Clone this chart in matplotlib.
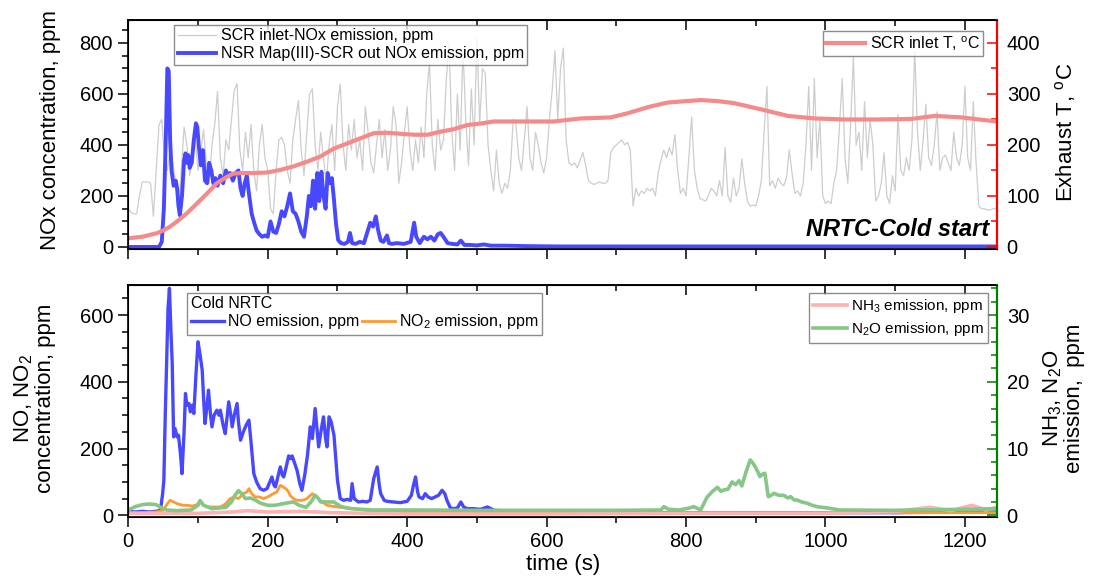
import numpy as np
import matplotlib
matplotlib.use('Agg')
import matplotlib.pyplot as plt
from matplotlib.ticker import MultipleLocator

plt.rcParams['font.family'] = ['Liberation Sans', 'DejaVu Sans']
plt.rcParams['mathtext.fontset'] = 'custom'
plt.rcParams['mathtext.rm'] = 'Liberation Sans'
plt.rcParams['mathtext.it'] = 'Liberation Sans:italic'
plt.rcParams['mathtext.bf'] = 'Liberation Sans:bold'

# ---------------- DATA ----------------
# SCR inlet NOx (ppm), sampled every 4 s starting at t = 0
scr_in_step = 4
scr_in_nox = [
    150, 135, 130, 130, 200, 255, 255, 255, 250, 120,
    300, 480, 500, 350, 300, 380, 330, 250, 120, 300,
    470, 400, 280, 350, 430, 300, 380, 460, 320, 250,
    400, 480, 610, 350, 280, 420, 380, 500, 615, 640,
    380, 300, 450, 350, 480, 300, 220, 400, 480, 350,
    300, 150, 130, 300, 420, 430, 400, 300, 250, 420,
    500, 575, 380, 280, 450, 600, 620, 400, 300, 450,
    350, 250, 400, 480, 300, 550, 640, 400, 300, 480,
    380, 500, 350, 420, 300, 550, 450, 330, 290, 400,
    500, 350, 460, 300, 380, 550, 480, 250, 330, 450,
    550, 380, 300, 420, 330, 470, 350, 600, 720, 400,
    300, 500, 380, 420, 650, 800, 450, 300, 600, 380,
    780, 500, 320, 620, 400, 820, 480, 700, 680, 400,
    300, 220, 380, 250, 210, 250, 230, 300, 500, 480,
    350, 300, 420, 550, 350, 300, 450, 400, 330, 290,
    350, 500, 615, 770, 500, 700, 780, 420, 330, 320,
    330, 310, 340, 370, 320, 260, 250, 245, 250, 255,
    250, 250, 260, 370, 390, 400, 410, 420, 400, 410,
    380, 160, 230, 200, 220, 210, 230, 220, 230, 200,
    290, 340, 380, 350, 390, 360, 440, 300, 210, 230,
    200, 350, 510, 300, 230, 190, 185, 180, 200, 230,
    220, 200, 260, 200, 390, 200, 175, 270, 200, 230,
    345, 250, 180, 160, 165, 160, 200, 260, 450, 630,
    240, 260, 230, 270, 250, 240, 270, 380, 290, 210,
    220, 200, 250, 400, 630, 300, 660, 350, 500, 200,
    170, 180, 170, 250, 300, 470, 660, 350, 250, 480,
    745, 400, 450, 300, 570, 350, 500, 400, 180, 200,
    250, 370, 200, 170, 280, 220, 520, 300, 280, 350,
    300, 420, 770, 450, 300, 420, 560, 350, 320, 400,
    530, 300, 350, 360, 330, 300, 450, 350, 320, 400,
    630, 350, 300, 570, 330, 160, 150, 150, 145, 145,
    150, 150,
]

# NSR Map(III)-SCR out NOx (ppm)
nsr_t = [0, 44, 48, 51, 54, 56, 58, 60, 62, 65, 68, 70, 72, 74, 77, 80, 82, 84, 86, 88,
         91, 94, 97, 99, 101, 104, 107, 110, 113, 116, 119, 122, 125, 128, 132, 136, 140, 143, 146, 150,
         154, 158, 161, 164, 167, 170, 173, 177, 180, 184, 188, 192, 196, 200, 204, 208, 212, 216, 220, 224,
         228, 232, 236, 240, 244, 248, 252, 256, 259, 262, 265, 268, 271, 274, 277, 280, 283, 286, 289, 292,
         295, 298, 301, 305, 310, 315, 318, 321, 326, 332, 338, 343, 347, 351, 355, 358, 362, 366, 371, 374,
         378, 385, 395, 405, 410, 413, 418, 424, 429, 434, 439, 444, 448, 452, 458, 465, 472, 477, 482, 490,
         500, 510, 520, 540, 580, 620, 700, 800, 900, 1000, 1100, 1200, 1244]
nsr_nox = [0, 0, 20, 150, 450, 700, 690, 420, 300, 240, 260, 230, 160, 125, 200, 340, 367, 330, 360, 310,
           330, 420, 485, 470, 400, 320, 380, 260, 250, 330, 300, 250, 270, 240, 280, 250, 300, 280, 290, 260,
           290, 300, 230, 200, 250, 280, 210, 130, 100, 65, 50, 40, 45, 40, 100, 60, 55, 90, 140, 120,
           160, 210, 140, 130, 100, 60, 40, 120, 200, 160, 260, 150, 290, 180, 295, 200, 150, 290, 250, 270,
           185, 90, 27, 15, 12, 20, 55, 15, 12, 20, 15, 60, 95, 80, 120, 70, 25, 20, 45, 15,
           12, 15, 12, 20, 95, 40, 15, 40, 30, 40, 25, 50, 55, 40, 15, 12, 10, 25, 8, 8,
           6, 10, 5, 5, 3, 2, 2, 2, 2, 2, 2, 2, 2]

# SCR inlet temperature (deg C)
temp_t = [0, 20, 41, 51, 60, 70, 84, 99, 113, 127, 142, 151, 165, 180, 199, 218, 237, 256, 275, 295,
          314, 333, 352, 371, 390, 410, 429, 448, 467, 486, 505, 524, 563, 610, 649, 692, 716, 745, 773, 800,
          821, 845, 869, 907, 946, 984, 1027, 1075, 1123, 1157, 1195, 1220, 1246]
temp_c = [17, 20, 27, 33, 40, 50, 66, 86, 105, 125, 138, 144, 145, 145, 146, 151, 158, 167, 177, 193,
          203, 213, 223, 224, 222, 220, 220, 226, 231, 239, 242, 246, 246, 246, 252, 254, 262, 274, 283, 286,
          288, 286, 282, 270, 257, 252, 250, 250, 251, 257, 254, 250, 246]

# NO emission (ppm)
no_t = [0, 10, 20, 30, 40, 46, 49, 51, 53, 55.5, 57, 59, 61, 63, 65, 67, 70, 72, 75, 77,
        80, 82, 84, 87, 89, 92, 94, 97, 100, 103, 106, 108, 110, 113, 115, 118, 120, 123, 127, 130,
        132, 136, 139, 142, 144, 147, 149, 152, 156, 158, 161, 165, 169, 173, 176, 180, 184, 189, 194, 199,
        203, 206, 209, 211, 215, 218, 221, 223, 227, 230, 233, 235, 238, 242, 246, 249, 253, 257, 261, 264,
        268, 271, 273, 277, 280, 283, 285, 288, 291, 295, 298, 300, 304, 309, 314, 319, 321, 324, 330, 336,
        342, 347, 352, 357, 360, 362, 367, 371, 380, 390, 400, 406, 409, 412, 415, 417, 422, 426, 430, 435,
        440, 445, 450, 454, 457, 462, 467, 472, 477, 481, 486, 495, 505, 515, 525, 550, 600, 700, 800, 900,
        1000, 1100, 1200, 1246]
no_ppm = [12, 10, 12, 10, 12, 15, 60, 105, 300, 505, 620, 680, 560, 455, 235, 260, 235, 240, 180, 125,
          250, 365, 330, 335, 310, 330, 305, 420, 520, 480, 435, 350, 275, 330, 375, 300, 265, 300, 315, 300,
          315, 270, 245, 300, 340, 300, 265, 300, 335, 280, 225, 250, 270, 285, 220, 125, 100, 80, 75, 80,
          100, 115, 90, 85, 120, 145, 120, 115, 150, 178, 170, 178, 160, 135, 95, 75, 120, 180, 265, 230,
          320, 250, 205, 260, 295, 230, 205, 295, 280, 240, 160, 105, 50, 45, 48, 45, 95, 50, 40, 42,
          40, 45, 110, 145, 90, 65, 45, 42, 40, 38, 42, 60, 90, 115, 70, 55, 50, 65, 55, 50,
          55, 60, 75, 65, 45, 22, 20, 22, 40, 25, 20, 20, 18, 25, 15, 12, 10, 8, 8, 8,
          8, 8, 10, 10]

# NO2 emission (ppm)
no2_t = [0, 20, 40, 50, 56, 60, 65, 70, 78, 84, 92, 99, 103, 108, 115, 125, 132, 140, 146, 152,
         158, 165, 170, 173, 177, 182, 188, 194, 200, 208, 213, 218, 222, 226, 230, 232, 237, 242, 250, 256,
         264, 270, 275, 285, 300, 320, 340, 360, 400, 500, 600, 800, 1000, 1246]
no2_ppm = [8, 8, 10, 15, 35, 45, 40, 35, 30, 30, 28, 32, 45, 30, 25, 25, 25, 35, 50, 55,
           50, 65, 70, 80, 65, 55, 55, 50, 55, 65, 70, 90, 85, 80, 70, 60, 50, 45, 45, 50,
           65, 55, 45, 30, 25, 20, 15, 12, 10, 8, 8, 8, 8, 8]

# N2O emission (ppm)
n2o_t = [0, 10, 20, 30, 40, 46, 55, 70, 90, 100, 103, 108, 120, 130, 140, 148, 153, 158, 163, 168,
         175, 182, 190, 200, 210, 220, 230, 237, 245, 255, 262, 268, 272, 276, 285, 295, 305, 320, 350, 400,
         500, 600, 700, 764, 768, 775, 790, 805, 811, 821, 830, 838, 845, 850, 854, 860, 866, 871, 876, 880,
         886, 892, 896, 899, 903, 906, 910, 913, 918, 922, 926, 933, 940, 946, 950, 955, 959, 966, 974, 981,
         988, 995, 1003, 1020, 1100, 1200, 1246]
n2o_ppm = [0.8, 1.3, 1.6, 1.7, 1.6, 1.2, 0.8, 0.7, 0.8, 1.5, 2.2, 1.5, 1.0, 1.1, 1.2, 2.0, 3.0, 3.7, 3.2, 2.5,
           2.6, 2.3, 1.8, 1.5, 1.5, 1.7, 1.9, 2.0, 1.5, 1.2, 2.0, 3.0, 2.6, 2.0, 2.0, 2.0, 1.3, 1.0, 0.8, 0.8,
           0.75, 0.75, 0.75, 0.8, 1.3, 0.9, 0.8, 1.1, 1.3, 0.8, 2.7, 3.6, 4.2, 3.6, 3.8, 3.9, 5.0, 4.6, 5.2, 4.4,
           6.5, 8.3, 7.8, 7.3, 6.5, 5.8, 6.2, 6.3, 2.8, 3.0, 3.3, 3.0, 3.0, 2.6, 2.8, 2.3, 2.3, 2.0, 1.8, 1.5,
           1.3, 1.2, 1.1, 0.8, 0.75, 0.9, 1.0]

# NH3 emission (ppm)
nh3_t = [0, 100, 150, 170, 200, 250, 290, 400, 600, 800, 1000, 1100, 1150, 1180, 1210, 1230, 1246]
nh3_ppm = [0.3, 0.3, 0.5, 0.7, 0.5, 0.6, 0.4, 0.2, 0.2, 0.3, 0.3, 0.6, 1.2, 0.7, 1.5, 0.8, 1.2]

# ---------------- STYLE ----------------
C_GREY = '#cdcdcd'
C_BLUE = '#4848ff'
C_RED = '#f58a8a'
C_ORANGE = '#ff9933'
C_GREEN = '#86c686'
C_PINK = '#ffb0b0'

TICK_FS = 14.5
LABEL_FS = 16
LEG_FS = 11.5

fig = plt.figure(figsize=(10.96, 5.79), dpi=100)
L, W = 128.3 / 1096, (997 - 128.3) / 1096
ax1 = fig.add_axes([L, 1 - 249 / 579, W, 229 / 579])
ax3 = fig.add_axes([L, 1 - 517 / 579, W, 232 / 579])
ax2 = ax1.twinx()
ax4 = ax3.twinx()

XMAX = 1246


def style_left(ax, major, minor):
    ax.yaxis.set_major_locator(MultipleLocator(major))
    ax.yaxis.set_minor_locator(MultipleLocator(minor))
    ax.tick_params(axis='y', which='both', direction='out', right=False, labelsize=TICK_FS, width=1.1, pad=4)
    ax.tick_params(axis='y', which='major', length=7)
    ax.tick_params(axis='y', which='minor', length=4)
    ax.xaxis.set_major_locator(MultipleLocator(200))
    ax.xaxis.set_minor_locator(MultipleLocator(100))
    ax.tick_params(axis='x', which='both', direction='out', top=False, labelsize=TICK_FS, width=1.1, pad=4)
    ax.tick_params(axis='x', which='major', length=7)
    ax.tick_params(axis='x', which='minor', length=4)
    for s in ax.spines.values():
        s.set_linewidth(1.2)
    sec = ax.secondary_xaxis('top')
    sec.xaxis.set_major_locator(MultipleLocator(200))
    sec.xaxis.set_minor_locator(MultipleLocator(100))
    sec.tick_params(which='both', direction='in', labeltop=False, width=1.1)
    sec.tick_params(which='major', length=7)
    sec.tick_params(which='minor', length=4)
    sec.spines['top'].set_linewidth(1.2)


def style_right(ax, major, minor, color):
    ax.yaxis.set_major_locator(MultipleLocator(major))
    ax.yaxis.set_minor_locator(MultipleLocator(minor))
    ax.tick_params(axis='y', which='both', direction='in', colors=color, labelcolor='black',
                   labelsize=TICK_FS, width=1.1, pad=7)
    ax.tick_params(axis='y', which='major', length=7)
    ax.tick_params(axis='y', which='minor', length=4)
    ax.spines['right'].set_color(color)
    ax.spines['right'].set_linewidth(1.6)


# ---------------- TOP PANEL ----------------
t_in = np.arange(len(scr_in_nox)) * scr_in_step
l1, = ax1.plot(t_in, scr_in_nox, color=C_GREY, lw=0.9, label='SCR inlet-NOx emission, ppm')
l2, = ax1.plot(nsr_t, nsr_nox, color=C_BLUE, lw=2.8, label='NSR Map(III)-SCR out NOx emission, ppm')
l3, = ax2.plot(temp_t, temp_c, color=C_RED, lw=3.0, label=r'SCR inlet T, $^{\rm o}$C')

ax1.set_xlim(0, XMAX)
ax1.set_ylim(-8, 890)
ax2.set_ylim(-4, 445)
style_left(ax1, 200, 50)
ax1.tick_params(axis='x', labelbottom=False)
style_right(ax2, 100, 50, 'red')

ax1.set_ylabel('NOx concentration, ppm', fontsize=LABEL_FS, va='center')
ax1.yaxis.set_label_coords(-0.090, 0.52)
ax2.set_ylabel(r'Exhaust T, $^{\rm o}$C', fontsize=LABEL_FS, va='center')
ax2.yaxis.set_label_coords(1.0794, 0.507)

leg1 = ax1.legend(handles=[l1, l2], loc='upper left', bbox_to_anchor=(0.053, 0.978),
                  borderaxespad=0, fontsize=LEG_FS, frameon=True, fancybox=False,
                  edgecolor='#707070', handlelength=2.4, handletextpad=0.3,
                  labelspacing=0.2, borderpad=0.2)
leg1.get_frame().set_linewidth(1.0)
leg2 = ax2.legend(handles=[l3], loc='upper right', bbox_to_anchor=(0.984, 0.952),
                  borderaxespad=0, fontsize=LEG_FS, frameon=True, fancybox=False,
                  edgecolor='#707070', handlelength=2.4, handletextpad=0.3, borderpad=0.2)
leg2.get_frame().set_linewidth(1.0)

ax1.text(0.991, 0.083, 'NRTC-Cold start', transform=ax1.transAxes, ha='right', va='center',
         fontsize=17, fontweight='bold', fontstyle='italic')

# ---------------- BOTTOM PANEL ----------------
b1, = ax3.plot(no_t, no_ppm, color=C_BLUE, lw=2.4, label='NO emission, ppm')
b2, = ax3.plot(no2_t, no2_ppm, color=C_ORANGE, lw=2.0, label=r'NO$_2$ emission, ppm')
b3, = ax4.plot(nh3_t, nh3_ppm, color=C_PINK, lw=2.6, label=r'NH$_3$ emission, ppm')
b4, = ax4.plot(n2o_t, n2o_ppm, color=C_GREEN, lw=2.6, label=r'N$_2$O emission, ppm')

ax3.set_xlim(0, XMAX)
ax3.set_ylim(-5, 690)
ax4.set_ylim(-0.25, 34.5)
style_left(ax3, 200, 50)
style_right(ax4, 10, 2, 'green')

ax3.set_xlabel('time (s)', fontsize=16, labelpad=2)
ax3.set_ylabel('NO, NO$_2$\nconcentration, ppm', fontsize=LABEL_FS, va='center', linespacing=1.0)
ax3.yaxis.set_label_coords(-0.1086, 0.513)
ax4.set_ylabel('NH$_3$, N$_2$O\nemission,  ppm', fontsize=LABEL_FS, va='center', linespacing=1.0)
ax4.yaxis.set_label_coords(1.0760, 0.513)

leg3 = ax3.legend(handles=[b1, b2], loc='upper left', bbox_to_anchor=(0.068, 0.966),
                  borderaxespad=0, fontsize=LEG_FS, ncol=2, title='Cold NRTC',
                  title_fontsize=LEG_FS, alignment='left', frameon=True, fancybox=False,
                  edgecolor='#707070', handlelength=2.1, handletextpad=0.25,
                  columnspacing=0.15, borderpad=0.2, labelspacing=0.2)
leg3.get_frame().set_linewidth(1.0)
leg3._legend_box.sep = 1
leg4 = ax4.legend(handles=[b3, b4], loc='upper right', bbox_to_anchor=(0.990, 0.966),
                  borderaxespad=0, fontsize=11, frameon=True, fancybox=False,
                  edgecolor='#707070', handlelength=2.2, handletextpad=0.25,
                  labelspacing=0.3, borderpad=0.3)
leg4.get_frame().set_linewidth(1.0)

fig.savefig('out.png', dpi=100)
